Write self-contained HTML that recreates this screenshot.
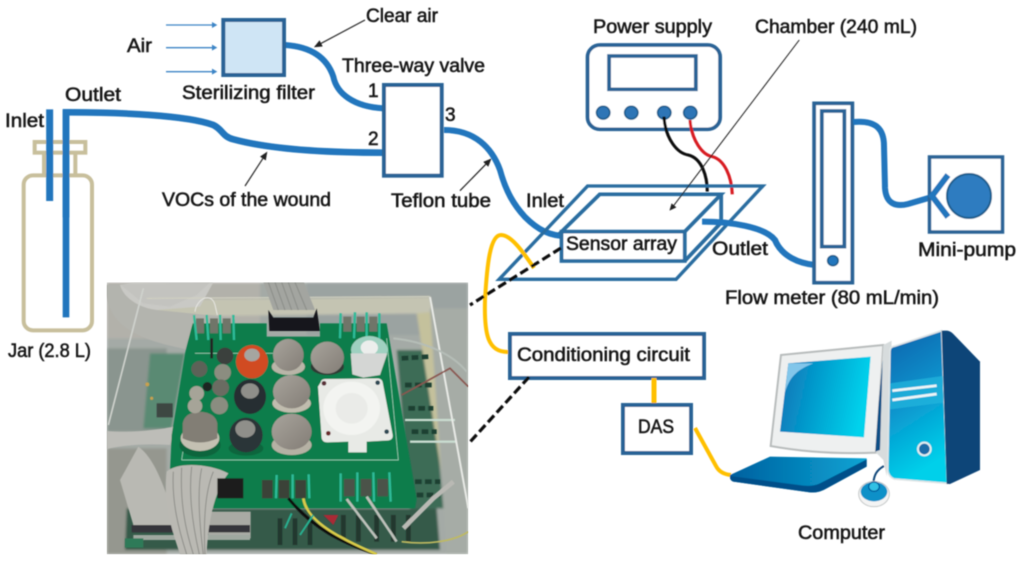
<!DOCTYPE html>
<html><head><meta charset="utf-8"><style>
html,body{margin:0;padding:0;background:#fff}
svg{display:block}
text{font-family:"Liberation Sans",sans-serif;font-size:19px;fill:#161616;stroke:#161616;stroke-width:.55}
</style></head><body>
<svg xmlns="http://www.w3.org/2000/svg" width="1024" height="563" viewBox="0 0 1024 563">
<defs>
<filter id="b"><feGaussianBlur stdDeviation="0.45"/></filter>
<filter id="p" x="-5%" y="-5%" width="110%" height="110%"><feGaussianBlur stdDeviation="4"/></filter>
<filter id="q"><feGaussianBlur stdDeviation="1.6"/></filter>
<linearGradient id="scr" x1="0" x2="1" y1="0" y2="0.2"><stop offset="0" stop-color="#0a70b4"/><stop offset="1" stop-color="#00d2ec"/></linearGradient>
<linearGradient id="tow" x1="0" x2="0.25" y1="0" y2="1"><stop offset="0" stop-color="#0862ac"/><stop offset=".5" stop-color="#0a92cc"/><stop offset="1" stop-color="#00d0ea"/></linearGradient>
<linearGradient id="key" x1="0" x2="1" y1="0" y2="0"><stop offset="0" stop-color="#05609f"/><stop offset="1" stop-color="#08a4d4"/></linearGradient>
<linearGradient id="mesh" x1="0" x2="1" y1="0" y2="1"><stop offset="0" stop-color="#a8a49c"/><stop offset="1" stop-color="#837d76"/></linearGradient>
<marker id="ah" markerWidth="7" markerHeight="6" refX="6" refY="3" orient="auto"><path d="M0,0L7,3L0,6z" fill="#222"/></marker>
</defs>
<g filter="url(#b)">
<g transform="scale(.33333)" fill="none">
<g stroke="#c8bf9c" stroke-width="12">
<rect x="104" y="426" width="152" height="32"/>
<path d="M132,460V525M226,460V525"/>
<rect x="71" y="526" width="205" height="465" rx="28"/>
</g>
<path d="M149,328V603" stroke="#2176bd" stroke-width="21"/>
<path d="M198,652V337H210C350,337 560,345 640,375C670,390 665,408 700,418C800,445 950,458 1150,458" stroke="#2176bd" stroke-width="20"/>
<path d="M198,330V952" stroke="#2176bd" stroke-width="20"/>
<path d="M855,135C930,140 980,170 1000,230C1010,280 1060,320 1150,325" stroke="#2176bd" stroke-width="18"/>
<rect x="670" y="60" width="182" height="165" fill="#cfe5f5" stroke="#2a6496" stroke-width="12"/>
<rect x="1152" y="255" width="173" height="272" fill="#fff" stroke="#2a6496" stroke-width="12"/>
<g stroke="#3d85c6" stroke-width="4"><path d="M498,75H640M498,143H640M498,215H640"/></g>
<path d="M636,66L652,75L636,84zM636,134L652,143L636,152zM636,206L652,215L636,224z" fill="#3d85c6"/>
<g stroke="#222" stroke-width="3.5" marker-end="url(#ah)">
<path d="M1095,60L945,140"/><path d="M735,558L800,458"/><path d="M1380,572L1472,478"/>
</g>
</g>
<path d="M444,130C475,130 492,148 500,170C506,192 514,205 525,217C538,230 550,236 566,236" fill="none" stroke="#2176bd" stroke-width="6"/>
<g transform="translate(480,0) scale(.347,.33333)" fill="none">
<rect x="310" y="135" width="382" height="253" rx="36" fill="#fff" stroke="#2a6496" stroke-width="11"/>
<rect x="372" y="168" width="250" height="100" stroke="#2a6496" stroke-width="11"/>
<g fill="#2e75b6" stroke="#1f5f8f" stroke-width="5">
<circle cx="355" cy="338" r="19"/><circle cx="436" cy="338" r="19"/><circle cx="531" cy="338" r="19"/><circle cx="606" cy="338" r="19"/>
</g>
<path d="M605,360C610,420 640,465 670,470C705,480 725,530 727,583" stroke="#d81c24" stroke-width="9"/>
<path d="M530,350C535,420 570,460 600,465C640,475 655,530 655,575" stroke="#111" stroke-width="9"/>
<path d="M310,558H815L565,838H55Z" stroke="#2a6da0" stroke-width="10"/>
<path d="M345,583H695L590,695H235ZM590,783L695,668V583" stroke="#2a6da0" stroke-width="11"/>
<rect x="235" y="695" width="355" height="88" fill="#fff" stroke="#2a6da0" stroke-width="11"/>
<path d="M920,120L550,628" stroke="#222" stroke-width="3"/>
<path d="M546,632L552,610L566,622z" fill="#222"/>
<path d="M640,665C720,665 820,680 850,720C870,770 920,790 965,795" stroke="#2176bd" stroke-width="18"/>
<rect x="963" y="310" width="110" height="538" fill="#fff" stroke="#2a6496" stroke-width="11"/>
<rect x="985" y="333" width="65" height="407" stroke="#2a6496" stroke-width="11"/>
<circle cx="1017" cy="782" r="15" fill="#2176bd" stroke="#1f5f8f" stroke-width="5"/>
</g>
<path d="M853,122C875,120 884,128 884,146L885,188C886,204 896,207 908,204L932,197" fill="none" stroke="#2176bd" stroke-width="6"/>
<rect x="929.5" y="157" width="73" height="75" fill="#fff" stroke="#2a6496" stroke-width="3.5"/>
<circle cx="969" cy="196" r="22" fill="#2e7cc0" stroke="#1f5f8f" stroke-width="2"/>
<path d="M948,175L932,196L948,217" fill="none" stroke="#2176bd" stroke-width="6"/>
<path d="M534,268C525,255 512,235 501,235C490,235 487,265 485,300C484,335 488,352 508,352" fill="none" stroke="#ffc000" stroke-width="4"/>
<rect x="510" y="334" width="194" height="44" fill="#fff" stroke="#2a6496" stroke-width="4"/>
<path d="M654,378V404" stroke="#ffc000" stroke-width="5"/>
<rect x="623" y="405" width="68" height="48" fill="#fff" stroke="#2a6496" stroke-width="4"/>
<path d="M695,428L716,466Q720,474 731,475" fill="none" stroke="#ffc000" stroke-width="4"/>
<path d="M561,248L470,305M529,377L470,442" stroke="#111" stroke-width="3.2" stroke-dasharray="9 4" fill="none"/>
<!-- computer -->
<g transform="translate(720,320) scale(.33333)">
<path d="M183,105L490,75L468,398Q300,405 152,378Z" fill="#eef0f0" stroke="#b8bcbc" stroke-width="6"/>
<path d="M205,130L452,110L432,352L180,335Z" fill="url(#scr)"/>
<path d="M205,130L280,130C225,150 205,180 195,218Z" fill="#82c6ea"/>
<path d="M490,75L515,62L500,470L490,420L468,398Z" fill="#d7dcdd"/>
<path d="M476,250L488,120L480,390L466,395Z" fill="#0a4f86"/>
<path d="M510,92Q510,80 525,78L665,32L682,490L522,477Q505,470 503,450Z" fill="url(#tow)" stroke="#dfe5e6" stroke-width="5"/>
<path d="M665,32H680Q690,32 700,42L780,125V450L690,492H680Z" fill="#0a4578"/>
<path d="M510,190L668,168L670,248L510,268Z" fill="#25b4dc" opacity=".75"/>
<path d="M517,212L650,197M517,240L650,222" stroke="#eef6f8" stroke-width="8"/>
<circle cx="613" cy="387" r="19" fill="#1a6ca8" stroke="#e4eef0" stroke-width="6"/>
<path d="M30,465L150,410L440,415V440L320,505Q295,520 270,517L40,485Q28,480 30,465Z" fill="url(#key)"/>
<path d="M30,468Q28,480 40,485L270,517Q295,520 320,505L440,440V418L300,490Q280,500 250,497Z" fill="#05508a"/>
<path d="M492,438C470,450 462,465 460,490" fill="none" stroke="#0a4578" stroke-width="6"/>
<ellipse cx="462" cy="522" rx="46" ry="38" fill="#f4f4f4" stroke="#c4c8c8" stroke-width="3"/>
<ellipse cx="462" cy="515" rx="40" ry="29" fill="#0a90c8"/>
<ellipse cx="462" cy="500" rx="16" ry="14" fill="#31c0e4" stroke="#05609f" stroke-width="4"/>
</g>
</g>
<!-- photo -->
<g transform="translate(100,275) scale(.33333)">
<clipPath id="pc"><rect x="20" y="22" width="1085" height="816"/></clipPath>
<g clip-path="url(#pc)">
<g filter="url(#p)">
<rect x="20" y="22" width="1085" height="816" fill="#a4aaa6"/>
<path d="M20,22H480V190H20Z" fill="#b2b1aa"/>
<path d="M620,22H1105V180H620Z" fill="#9ba3a1"/>
<path d="M140,75L990,65L1000,115L150,125Z" fill="#c4c4b2"/>
<path d="M20,220H200V470H20Z" fill="#8a958f"/>
<path d="M150,235H255L215,460H130Z" fill="#5a8a73"/>
<path d="M20,520H200V838H20Z" fill="#95978f"/>
<path d="M80,700H1010L1020,825H75Z" fill="#365a4a"/>
<path d="M890,225H990L1030,700H930Z" fill="#3c6c57"/>
<path d="M950,115L1005,110L1090,700L1040,700Z" fill="#c4c19c"/>
<path d="M990,100H1105V838H1040Z" fill="#a6aca6"/>
</g>
<g filter="url(#q)">
<path d="M905,250L985,245M915,330L995,330M925,400L1000,400M935,470L1010,470M945,620L1020,620M950,660L1020,660" stroke="#1f3f33" stroke-width="14" stroke-dasharray="20 10" fill="none"/>
<path d="M915,435H1065M930,500H1070" stroke="#c9dcd0" stroke-width="7" fill="none"/>
<path d="M60,30C70,70 120,100 170,105L300,95L340,22H100Z" fill="#c9c9c5"/>
<path d="M20,60C30,140 90,190 255,222L275,150L420,130L170,105C120,100 70,70 60,30H20Z" fill="#b3b4ae"/>
<path d="M60,28L130,85L210,95L290,60L330,22Z" fill="#c3c3bf"/>
<path d="M130,40L25,450" stroke="#cfd2cd" stroke-width="5"/>
<path d="M990,66L1105,700" stroke="#e8eae6" stroke-width="6"/>
<path d="M140,70L990,65" stroke="#d2d2c2" stroke-width="3"/>
<path d="M20,468C90,475 170,465 225,455L210,510C140,505 70,510 20,522Z" fill="#bdbdb8"/>
<path d="M60,615L115,515C150,540 175,590 200,660L215,750H100Z" fill="#b9b9b3"/>
<path d="M325,710H452V790H325Z" fill="#a9aaa4"/>
<path d="M95,750H450V772H95Z" fill="#34353a"/>
<path d="M100,780H450V795H100Z" fill="#9fa8a0"/>
<path d="M75,790H130V818H75Z" fill="#2f7a58"/>
<path d="M540,730V810M585,730V810M630,730V810M730,720V800M775,720V800M830,720V800M880,720V800M925,720V800" stroke="#20392e" stroke-width="14" fill="none"/>
<!-- main PCB -->
<path d="M278,145H500V185H660V145H860L950,672L945,700H205L215,480L255,235Z" fill="#0b7d4b"/>
<path d="M245,555H895L860,190M285,235H520M245,555L262,440" stroke="#a6d9c2" stroke-width="2" fill="none"/>
<!-- top ribbon + connector -->
<path d="M490,22H612L645,105H520Z" fill="#a3a5a0"/>
<path d="M505,22L535,105M525,22L555,105M545,22L575,105M565,22L595,105M585,22L620,105" stroke="#8a8c87" stroke-width="3"/>
<path d="M505,105L520,128H640L650,100L660,168H508Z" fill="#15171a"/>
<!-- terminals -->
<g fill="#6f7569">
<rect x="288" y="130" width="24" height="45"/><rect x="330" y="130" width="24" height="45"/><rect x="368" y="130" width="24" height="45"/>
<rect x="730" y="125" width="24" height="45"/><rect x="770" y="125" width="24" height="45"/><rect x="808" y="125" width="24" height="45"/>
<rect x="486" y="615" width="32" height="55" fill="#3b4338"/><rect x="536" y="615" width="32" height="55" fill="#3b4338"/><rect x="586" y="615" width="32" height="55" fill="#3b4338"/>
<rect x="732" y="612" width="32" height="52" fill="#4b5248"/><rect x="782" y="612" width="32" height="52" fill="#4b5248"/><rect x="832" y="612" width="32" height="52" fill="#4b5248"/>
</g>
<path d="M282,120L290,195M320,120L325,195M360,120L362,195M400,120L402,195M722,115L720,190M765,112L762,190M800,112L800,190M838,115L838,190M530,600L528,670M578,598L578,670M626,598L628,670M722,595L722,680M772,592L772,680M820,592L822,680M868,592L872,680" stroke="#2dbb98" stroke-width="7" fill="none"/>
<path d="M285,110C290,70 335,50 345,90L352,120" stroke="#e8e8e4" stroke-width="3" fill="none"/>
<!-- ribbon bottom -->
<path d="M200,590C230,560 330,565 385,595C350,640 325,720 320,838H240C210,750 190,680 200,590Z" fill="#bab9b3"/>
<path d="M220,590C215,680 235,760 260,838M245,578C240,680 255,760 280,838M275,575C265,660 280,760 298,838M305,580C290,650 300,760 310,838M340,590C315,650 310,740 315,838" stroke="#8d8d88" stroke-width="3" fill="none"/>
<rect x="352" y="610" width="78" height="60" fill="#1a1b1c"/>
<!-- wires & dark areas -->
<path d="M565,670C640,760 720,800 830,838" stroke="#111" stroke-width="9" fill="none"/>
<path d="M610,670C620,740 720,790 830,838" stroke="#d8cb48" stroke-width="8" fill="none"/>
<path d="M740,672L830,790M800,665L890,800" stroke="#bcc0b9" stroke-width="8" fill="none"/>
<path d="M600,780L640,720M555,760L575,715" stroke="#26b090" stroke-width="6" fill="none"/>
<path d="M670,720L715,720L700,750Z" fill="#a92a36"/>
<path d="M880,190C980,200 1060,240 1100,290" stroke="#b5bdb7" stroke-width="6" fill="none"/>
<path d="M905,360L1050,280L1105,335" stroke="#8a5650" stroke-width="5" fill="none"/>
<path d="M905,800C980,810 1060,800 1105,770" stroke="#c0ba60" stroke-width="5" fill="none"/>
<path d="M910,760L1000,670L1060,620" stroke="#b9b9b4" stroke-width="14" fill="none"/>
<!-- small board components -->
<rect x="170" y="385" width="48" height="42" fill="#3c4643"/>
<circle cx="142" cy="328" r="6" fill="#c8a050"/><circle cx="155" cy="370" r="5" fill="#c8a050"/>
<!-- sensors -->
<ellipse cx="300" cy="510" rx="62" ry="36" fill="#07653c"/>
<ellipse cx="300" cy="490" rx="58" ry="38" fill="#c4c0b2"/>
<path d="M248,490V445Q255,412 298,410Q345,412 352,445V490Q300,515 248,490Z" fill="#827e74"/>
<ellipse cx="438" cy="520" rx="52" ry="22" fill="#07653c"/>
<ellipse cx="438" cy="480" rx="50" ry="52" fill="#2b3439"/>
<ellipse cx="436" cy="462" rx="30" ry="26" fill="#8f8f8a"/>
<ellipse cx="575" cy="510" rx="60" ry="30" fill="#b5b1a4"/>
<ellipse cx="575" cy="470" rx="60" ry="54" fill="url(#mesh)"/>
<ellipse cx="575" cy="385" rx="58" ry="28" fill="#c0bcae"/>
<ellipse cx="575" cy="350" rx="56" ry="50" fill="url(#mesh)"/>
<ellipse cx="565" cy="275" rx="50" ry="25" fill="#b9b5a8"/>
<ellipse cx="565" cy="240" rx="46" ry="48" fill="url(#mesh)"/>
<ellipse cx="682" cy="275" rx="50" ry="25" fill="#2e3a36"/>
<ellipse cx="682" cy="248" rx="50" ry="48" fill="url(#mesh)"/>
<ellipse cx="456" cy="260" rx="48" ry="50" fill="#d14c20"/>
<ellipse cx="456" cy="240" rx="23" ry="19" fill="#a5a5a0"/>
<ellipse cx="450" cy="365" rx="48" ry="52" fill="#262d33"/>
<ellipse cx="450" cy="348" rx="27" ry="23" fill="#8f8f8a"/>
<ellipse cx="808" cy="225" rx="55" ry="42" fill="#9fd0c0"/>
<ellipse cx="808" cy="218" rx="26" ry="22" fill="#eceeec"/>
<path d="M752,235H862L840,300L790,308L757,298Z" fill="#d4d6d4"/>
<circle cx="298" cy="282" r="24" fill="#5d6258"/><circle cx="375" cy="243" r="25" fill="#3b403c"/><circle cx="368" cy="292" r="25" fill="#8b8d80"/>
<circle cx="362" cy="338" r="25" fill="#6a6c62"/><circle cx="290" cy="355" r="22" fill="#a6a498"/><circle cx="285" cy="393" r="22" fill="#a6a498"/><circle cx="358" cy="392" r="26" fill="#8a8d80"/>
<circle cx="322" cy="335" r="14" fill="#1f2622"/>
<path d="M335,190V250" stroke="#222" stroke-width="8"/>
<!-- white module -->
<path d="M662,322Q664,312 675,312L832,310Q845,310 848,322L878,480Q880,493 866,496L800,500V532H745V500L682,502Q668,502 665,490L654,335Z" fill="#e8eae6"/>
<ellipse cx="755" cy="400" rx="85" ry="80" fill="#f3f4f1"/>
<ellipse cx="755" cy="400" rx="48" ry="46" fill="#eaebe8"/>
<circle cx="672" cy="325" r="7" fill="#5a3038"/><circle cx="833" cy="323" r="7" fill="#2e4a54"/><circle cx="685" cy="475" r="7" fill="#6a2b2b"/><circle cx="860" cy="470" r="7" fill="#2e4a54"/>
</g>
</g>
</g>
<g filter="url(#b)">
<text x="366" y="22" textLength="72" lengthAdjust="spacingAndGlyphs">Clear air</text>
<text x="127" y="52" textLength="25" lengthAdjust="spacingAndGlyphs">Air</text>
<text x="342" y="72" textLength="143" lengthAdjust="spacingAndGlyphs">Three-way valve</text>
<text x="182" y="99" textLength="133" lengthAdjust="spacingAndGlyphs">Sterilizing filter</text>
<text x="65" y="101" textLength="56" lengthAdjust="spacingAndGlyphs">Outlet</text>
<text x="5" y="127" textLength="39" lengthAdjust="spacingAndGlyphs">Inlet</text>
<text x="368" y="97">1</text>
<text x="368" y="145">2</text>
<text x="445" y="121">3</text>
<text x="162" y="206" textLength="169" lengthAdjust="spacingAndGlyphs">VOCs of the wound</text>
<text x="391" y="207" textLength="100" lengthAdjust="spacingAndGlyphs">Teflon tube</text>
<text x="593" y="33" textLength="119" lengthAdjust="spacingAndGlyphs">Power supply</text>
<text x="755" y="33" textLength="162" lengthAdjust="spacingAndGlyphs">Chamber (240 mL)</text>
<text x="526" y="207" textLength="38" lengthAdjust="spacingAndGlyphs">Inlet</text>
<text x="566" y="250" textLength="111" lengthAdjust="spacingAndGlyphs">Sensor array</text>
<text x="712" y="255" textLength="56" lengthAdjust="spacingAndGlyphs">Outlet</text>
<text x="918" y="256" textLength="98" lengthAdjust="spacingAndGlyphs">Mini-pump</text>
<text x="725" y="304" textLength="214" lengthAdjust="spacingAndGlyphs">Flow meter (80 mL/min)</text>
<text x="8" y="357" textLength="83" lengthAdjust="spacingAndGlyphs">Jar (2.8 L)</text>
<text x="517" y="361" textLength="173" lengthAdjust="spacingAndGlyphs">Conditioning circuit</text>
<text x="638" y="433" textLength="36" lengthAdjust="spacingAndGlyphs">DAS</text>
<text x="798" y="539" textLength="87" lengthAdjust="spacingAndGlyphs">Computer</text>
</g>
</svg>
</body></html>
